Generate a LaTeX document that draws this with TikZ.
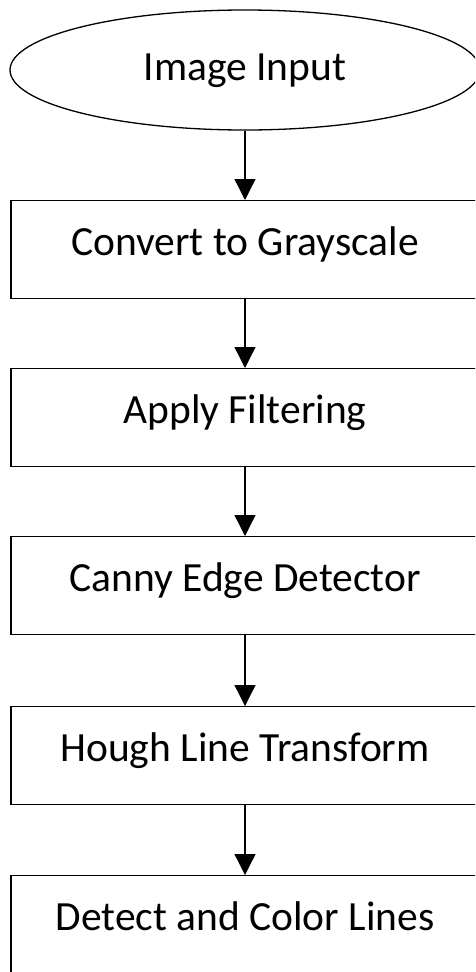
\documentclass[tikz,border=0pt]{standalone}
\usepackage{fontspec}
\setmainfont{Carlito}
\usetikzlibrary{arrows.meta,shapes.geometric}
\begin{document}
\begin{tikzpicture}[x=1pt,y=-1pt,
  stepbox/.style={draw=black, line width=1.3pt, rectangle, inner sep=0pt,
    minimum width=468pt, text height=55pt, text depth=43pt, anchor=north,
    font=\fontsize{41.5}{48}\selectfont},
  startnode/.style={draw=black, line width=1.3pt, ellipse, inner sep=0pt,
    minimum width=470pt, minimum height=120pt, text height=30pt, text depth=10pt,
    font=\fontsize{41.5}{48}\selectfont},
  flow/.style={line width=1.3pt, -{Triangle[length=21pt,width=21pt]}}]
\useasboundingbox (0,0) rectangle (475,972);
\clip (0,0) rectangle (475,972);
\node[startnode] (s) at (245,70) {Image Input};
\node[stepbox] (b1) at (245,200) {Convert to Grayscale};
\node[stepbox] (b2) at (245,368) {Apply Filtering};
\node[stepbox] (b3) at (245,536) {Canny Edge Detector};
\node[stepbox] (b4) at (245,706) {Hough Line Transform};
\node[stepbox] (b5) at (245,875) {Detect and Color Lines};
\draw[flow] (s) -- (b1);
\draw[flow] (b1) -- (b2);
\draw[flow] (b2) -- (b3);
\draw[flow] (b3) -- (b4);
\draw[flow] (b4) -- (b5);
\end{tikzpicture}
\end{document}
